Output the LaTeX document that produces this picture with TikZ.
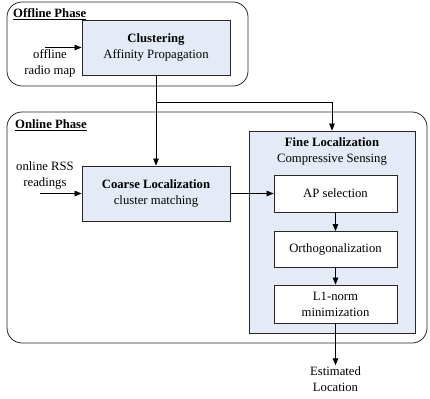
\documentclass[tikz,border=0pt]{standalone}
\usepackage{fontspec}
\setmainfont{Liberation Serif}
\usetikzlibrary{arrows.meta}
\definecolor{boxblue}{RGB}{229,235,246}
\tikzset{
  txt/.style={font=\fontsize{12.7}{16}\selectfont, align=center, inner sep=1pt},
  phase/.style={draw=black!85, line width=0.8pt, rounded corners=15pt, inner sep=0pt},
  bluebox/.style={draw=black!85, line width=0.8pt, fill=boxblue, inner sep=0pt, txt},
  whitebox/.style={draw=black!85, line width=0.8pt, fill=white, inner sep=0pt, txt},
  arr/.style={-{Triangle[length=7pt,width=5.5pt]}, line width=0.7pt},
  ttl/.style={font=\fontsize{12.7}{16}\selectfont\bfseries, inner sep=0pt, anchor=west}
}
\begin{document}
\begin{tikzpicture}[x=1pt,y=-1pt]
\useasboundingbox (0,0) rectangle (430,398);
% phases
\node[phase, minimum width=241pt, minimum height=84pt] (offline) at (127.5,44) {};
\node[phase, minimum width=420pt, minimum height=231pt] (online) at (217,227.5) {};
\node[ttl] (offlbl) at (13,14) {\underline{Offline Phase}};
\node[ttl] (onlbl) at (15,125) {\underline{Online Phase}};
% boxes
\node[bluebox, minimum width=148pt, minimum height=55pt] (clust) at (156,47.5) {\textbf{Clustering}\\Affinity Propagation};
\node[bluebox, minimum width=148pt, minimum height=55pt] (coarse) at (156,193.5) {\textbf{Coarse Localization}\\cluster matching};
\node[draw=black!85, line width=0.8pt, fill=boxblue, minimum width=166pt, minimum height=202pt, inner sep=0pt] (fine) at (332,232) {};
\node[txt] (finettl) at (332,151.5) {\textbf{Fine Localization}\\Compressive Sensing};
\node[whitebox, minimum width=123pt, minimum height=37pt] (apsel) at (335.5,193.5) {AP selection};
\node[whitebox, minimum width=123pt, minimum height=36pt] (ortho) at (335.5,249.5) {Orthogonalization};
\node[whitebox, minimum width=123pt, minimum height=38pt] (lone) at (335.5,304) {L1-norm\\minimization};
% inputs/outputs
\node[txt] (offin) at (50,63) {offline\\radio map};
\coordinate (offstart) at (45,47.5);
\node[txt] (onin) at (45,175) {online RSS\\readings};
\coordinate (onstart) at (40,193.5);
\node[txt] (est) at (335.5,379) {Estimated\\Location};
\coordinate (br) at (156,102);
% connectors
\draw[arr] (offstart) -- (clust.west);
\draw[arr] (onstart) -- (coarse.west);
\draw[arr] (clust.south) -- (coarse.north);
\draw[arr] (br) -| (fine.north);
\draw[arr] (coarse.east) -- (apsel.west);
\draw[arr] (apsel.south) -- (ortho.north);
\draw[arr] (ortho.south) -- (lone.north);
\draw[arr] (lone.south) -- (est.north);
\end{tikzpicture}
\end{document}
